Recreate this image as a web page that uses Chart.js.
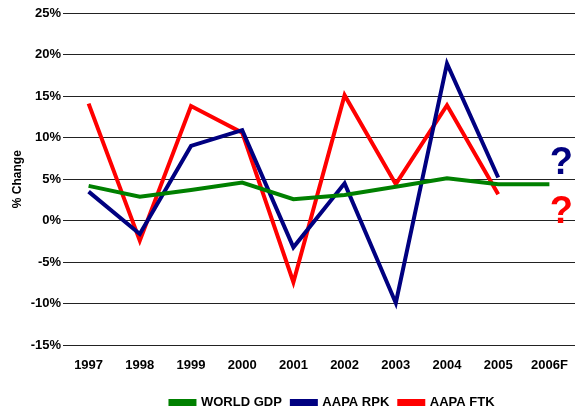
<!DOCTYPE html>
<html>
<head>
<meta charset="utf-8">
<script src="https://cdn.jsdelivr.net/npm/chart.js@4.4.0/dist/chart.umd.min.js"></script>
<style>
  html, body { margin: 0; padding: 0; background: #fff; }
  #wrap { width: 575px; height: 410px; }
</style>
</head>
<body>
<div id="wrap"><canvas id="chart"></canvas></div>
<script>
const years = ['1997', '1998', '1999', '2000', '2001', '2002', '2003', '2004', '2005', '2006F'];
const worldGdp = [4.2, 2.9, 3.7, 4.6, 2.6, 3.1, 4.1, 5.1, 4.4, 4.4];
const aapaRpk = [3.5, -1.6, 9.0, 10.9, -3.2, 4.5, -9.9, 18.9, 5.2, null];
const aapaFtk = [14.1, -2.4, 13.8, 10.6, -7.4, 15.1, 4.4, 13.9, 3.2, null];

// forecast markers shown beside 2006F
const forecastMarks = [
    { label: '?', value: 6.9, color: '#000080' },
    { label: '?', value: 1.0, color: '#FF0000' }
];

const questionMarks = {
    id: 'questionMarks',
    afterLayout(chart) {
        // legend sits a bit right of centre in the original
        chart.legend.left += 45;
        chart.legend.right += 45;
    },
    afterDatasetsDraw(chart) {
        const ctx = chart.ctx;
        const x = chart.scales.x.getPixelForValue(years.length - 1) + 12;
        ctx.save();
        ctx.font = 'bold 38px "Liberation Sans", Arial, sans-serif';
        ctx.textAlign = 'center';
        ctx.textBaseline = 'middle';
        forecastMarks.forEach(m => {
            ctx.fillStyle = m.color;
            ctx.fillText(m.label, x, chart.scales.y.getPixelForValue(m.value));
        });
        ctx.restore();
    }
};

const font = { family: '"Liberation Sans", Arial, sans-serif', weight: 'bold', size: 13 };

new Chart(document.getElementById('chart'), {
    type: 'line',
    data: {
        labels: years,
        datasets: [
            { label: 'WORLD GDP', data: worldGdp, borderColor: '#008000', backgroundColor: '#008000' },
            { label: 'AAPA RPK', data: aapaRpk, borderColor: '#000080', backgroundColor: '#000080' },
            { label: 'AAPA FTK', data: aapaFtk, borderColor: '#FF0000', backgroundColor: '#FF0000' }
        ]
    },
    options: {
        responsive: true,
        maintainAspectRatio: false,
        animation: false,
        elements: {
            line: { borderWidth: 4, tension: 0, borderJoinStyle: 'miter' },
            point: { radius: 0 }
        },
        layout: { padding: { top: 13, right: 0, left: 0, bottom: -9 } },
        scales: {
            x: {
                offset: true,
                grid: { display: false },
                border: { display: false },
                ticks: { color: '#000', font: font, padding: 4, maxRotation: 0 },
                afterFit(scale) { scale.height += 9; }
            },
            y: {
                min: -15,
                max: 25,
                grid: { color: '#222', drawTicks: false },
                border: { display: false },
                ticks: {
                    stepSize: 5,
                    color: '#000',
                    font: font,
                    padding: 2,
                    callback: v => v + '%'
                },
                title: {
                    display: true,
                    text: '% Change',
                    color: '#000',
                    font: { family: font.family, weight: 'bold', size: 12 },
                    padding: { top: 10, bottom: 0 }
                },
                afterFit(scale) { scale.width = 63; }
            }
        },
        plugins: {
            legend: {
                position: 'bottom',
                labels: {
                    color: '#000',
                    font: font,
                    boxWidth: 24,
                    boxHeight: 3,
                    padding: 10
                }
            },
            tooltip: { enabled: false }
        }
    },
    plugins: [questionMarks]
});
</script>
</body>
</html>
